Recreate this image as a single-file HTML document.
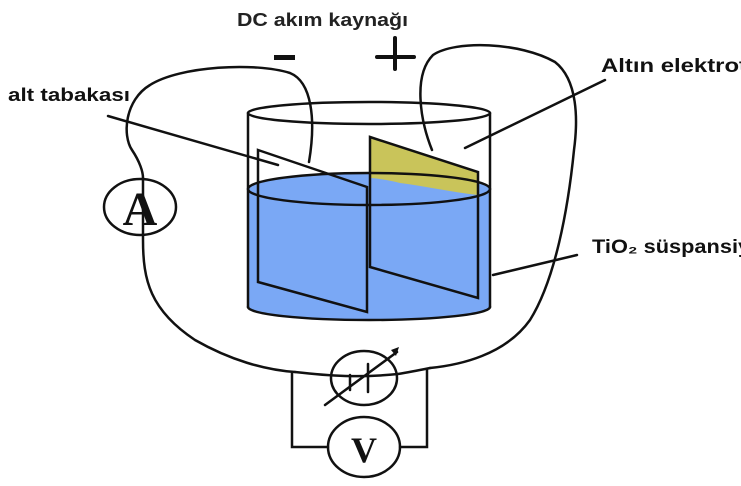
<!DOCTYPE html>
<html><head><style>
body{margin:0;background:#fff;overflow:hidden;}
svg{display:block;}
text{font-family:"Liberation Sans",sans-serif;font-weight:bold;}
</style></head><body>
<svg width="741" height="486" viewBox="0 0 741 486" xmlns="http://www.w3.org/2000/svg">
<g fill="none" stroke="#111" stroke-width="2.5" stroke-linecap="round">
<path d="M249,189 L249,307 A120,13 0 0 0 489,307 L489,189 A120,16 0 0 0 249,189Z" fill="#7aa8f5" stroke="none"/>
<path d="M370,137 L478,172 L478,195 C450,192 425,186 400,183 C388,180 375,178 370,178Z" fill="#c9c45a" stroke="none"/>
<ellipse cx="369" cy="113" rx="121" ry="11"/>
<ellipse cx="369" cy="189" rx="121" ry="16"/>
<path d="M369,307 m-121,0 a121,13 0 0 0 242,0"/>
<path d="M248,113 L248,307 M490,113 L490,307"/>
<path d="M258,150 L367,187 L367,312 L258,282Z"/>
<path d="M370,137 L478,172 L478,298 L370,267Z"/>
<path d="M108,116 L278,165"/>
<path d="M465,148 L605,80"/>
<path d="M493,275 L577,255"/>
<path d="M309,162 C316,120 312,82 290,73 C255,62 180,66 150,85 C125,100 122,135 132,150 C140,162 143,172 143,178"/>
<path d="M143,178 L143,240 C143,280 150,310 195,340 C230,360 265,370 295,372"/>
<path d="M432,150 C420,120 413,75 433,55 C455,40 520,42 555,62 C578,80 578,120 574,150 C568,210 555,280 530,320 C505,355 460,365 430,368"/>
<path d="M295,372 C330,376 360,378 398,374 C410,372 420,370 430,368"/>
<ellipse cx="140" cy="207" rx="36" ry="28"/>
<ellipse cx="364" cy="378" rx="33" ry="27"/>
<path d="M325,405 L397,352"/>
<path d="M350,375 L350,390 M368,364 L368,392"/>
<ellipse cx="364" cy="447" rx="36" ry="30"/>
<path d="M292,373 L292,447 L328,447 M400,447 L427,447 L427,369"/>
<path d="M377,57 L414,57 M395,38 L395,69" stroke-width="4"/>
</g>
<path d="M399,347 l-8,3 l5,6z" fill="#111"/>
<text x="140" y="225" font-size="48" text-anchor="middle" fill="#111" style="font-family:'Liberation Serif',serif">A</text>
<text x="364" y="462" font-size="36" text-anchor="middle" fill="#111" style="font-family:'Liberation Serif',serif">V</text>
<text x="237" y="26" font-size="18" textLength="171" lengthAdjust="spacingAndGlyphs" fill="#222">DC akım kaynağı</text>
<rect x="274" y="55" width="21" height="5" fill="#111"/>
<text x="8" y="101" font-size="18.5" textLength="122" lengthAdjust="spacingAndGlyphs" fill="#111">alt tabakası</text>
<text x="601" y="72" font-size="19" textLength="146" lengthAdjust="spacingAndGlyphs" fill="#111">Altın elektrot</text>
<text x="592" y="253" font-size="19" textLength="198" lengthAdjust="spacingAndGlyphs" fill="#111">TiO₂ süspansiyonu</text>
</svg>
</body></html>
